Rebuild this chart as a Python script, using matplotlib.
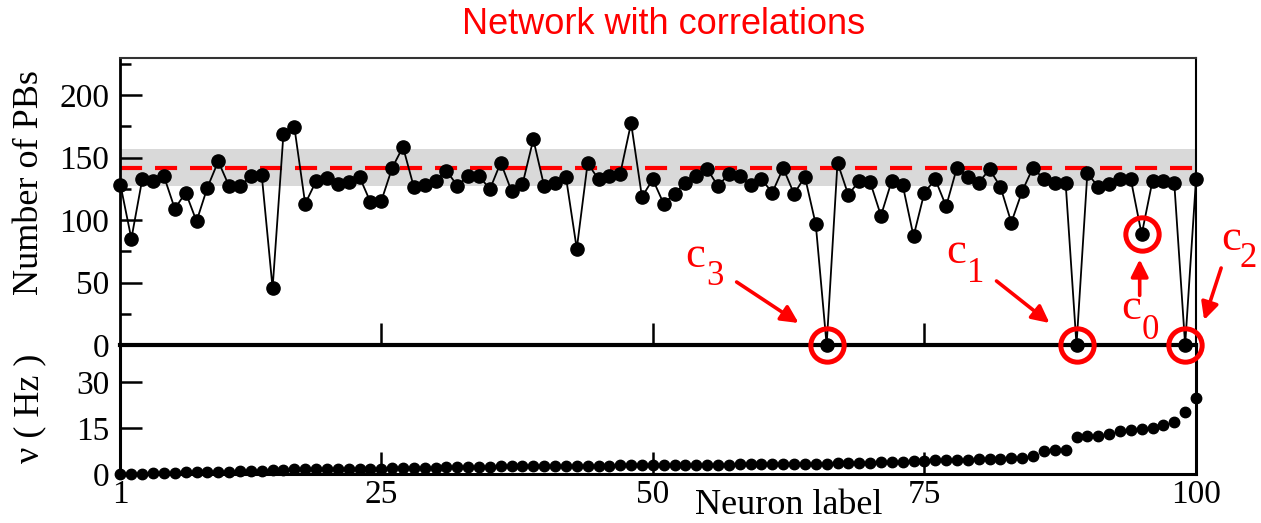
"""Number of PBs per neuron (top) and firing rate (bottom), network with correlations."""

import matplotlib
matplotlib.use("Agg")
import matplotlib.pyplot as plt
from matplotlib.ticker import MultipleLocator
from matplotlib.transforms import offset_copy

plt.rcParams["font.family"] = ["Liberation Serif", "DejaVu Serif"]

# --- data ---
neurons = list(range(1, 101))

n_pbs = [
    128, 85, 132.5, 131, 135, 109, 122, 99, 126, 147,
    127, 127, 135, 136, 45.5, 169, 174.5, 113, 131, 134,
    128.5, 130.5, 134.5, 114.5, 115, 141.5, 158.5, 126.5, 128, 131,
    139.5, 127.5, 135, 135.5, 124.5, 146, 123, 128.5, 164.5, 127,
    130, 134.5, 77, 145.5, 132.5, 135, 137, 177.5, 118.5, 132.5,
    113, 121, 130, 135, 141, 127, 137, 135, 128, 132.5,
    122, 141.5, 121, 134.5, 96.5, 0, 146, 120, 131.5, 130.5,
    103.5, 131.5, 128, 87, 122, 132.5, 111, 142, 134.5, 130,
    140.5, 126.5, 98, 123, 142, 132.5, 129.5, 129.5, 0, 137.5,
    126.5, 128.5, 132.5, 132.5, 88.5, 131.5, 131.5, 129.5, 0, 132.5,
]

rate_hz = [
    0.0, 0.1, 0.1, 0.2, 0.2, 0.3, 0.5, 0.5, 0.6, 0.7,
    0.8, 0.9, 1.0, 1.1, 1.3, 1.4, 1.5, 1.5, 1.5, 1.6,
    1.6, 1.6, 1.7, 1.7, 1.7, 1.8, 1.8, 1.9, 2.0, 2.1,
    2.3, 2.3, 2.4, 2.4, 2.4, 2.5, 2.5, 2.5, 2.6, 2.6,
    2.6, 2.6, 2.7, 2.7, 2.7, 2.7, 2.8, 2.8, 2.8, 2.8,
    2.9, 2.9, 2.9, 3.0, 3.0, 3.0, 3.0, 3.1, 3.1, 3.1,
    3.2, 3.2, 3.3, 3.3, 3.4, 3.4, 3.5, 3.5, 3.6, 3.7,
    3.8, 3.9, 4.0, 4.1, 4.3, 4.5, 4.6, 4.6, 4.7, 4.8,
    4.9, 5.0, 5.1, 5.2, 5.9, 7.5, 7.7, 7.7, 11.9, 12.4,
    12.4, 12.9, 14.0, 14.4, 14.7, 14.9, 16.0, 17.0, 20.1, 24.9,
]

pb_mean = 142
pb_band = (127, 157)

# circled neurons and their subscripts
marked = [95, 89, 99, 66]
marked_sub = ["0", "1", "2", "3"]

# label / arrow offsets in pixels from the circled point
offsets = {
    "3": dict(c=(-132, 78), s=(-112, 60), tail=(-90, 63), head=(-28, 22)),
    "1": dict(c=(-120, 82), s=(-101, 63), tail=(-80, 64), head=(-27, 22)),
    "0": dict(c=(-11, -85), s=(9, -105), tail=(-2, -61), head=(-2, -25)),
    "2": dict(c=(46, 95), s=(63, 78), tail=(36, 77), head=(19, 25)),
}

W, H = 1261, 523
fig = plt.figure(figsize=(W / 100, H / 100), dpi=100)
ax1 = fig.add_axes([120.5 / W, 1 - 345 / H, 1075.5 / W, 287.5 / H])
ax2 = fig.add_axes([120.5 / W, 1 - 474 / H, 1075.5 / W, 129 / H])
ax1.set_zorder(3)
ax1.patch.set_alpha(0)
ax2.patch.set_alpha(0)

# --- top panel ---
ax1.axhspan(*pb_band, color="#d9d9d9", lw=0, zorder=0)
ax1.axhline(pb_mean, color="red", lw=3, dashes=(5.3, 3.1), zorder=1)
ax1.plot(neurons, n_pbs, "-", color="k", lw=1.3, zorder=2, clip_on=False)
ax1.plot(neurons, n_pbs, "o", color="k", ms=9.5, zorder=3, clip_on=False)

for n, sub in zip(marked, marked_sub):
    v = n_pbs[n - 1]
    ax1.plot(n, v, "o", mfc="none", mec="red", ms=24, mew=3.6,
             clip_on=False, zorder=5)
    off = offsets[sub]
    tr = lambda dx, dy: offset_copy(ax1.transData, fig=fig, x=dx, y=dy, units="dots")
    ax1.text(n, v, "c", transform=tr(*off["c"]), ha="center", va="baseline",
             color="red", fontsize=32, clip_on=False)
    ax1.text(n, v, sub, transform=tr(*off["s"]), ha="center", va="baseline",
             color="red", fontsize=25, clip_on=False)
    ax1.annotate("", xy=(n, v), xycoords=tr(*off["head"]),
                 xytext=(n, v), textcoords=tr(*off["tail"]),
                 arrowprops=dict(arrowstyle="-|>", color="red", lw=2.6,
                                 mutation_scale=26, shrinkA=0, shrinkB=0),
                 annotation_clip=False)

ax1.set_xlim(1, 100)
ax1.set_ylim(0, 230)
ax1.set_xticks([25, 50, 75])
ax1.set_yticks(range(0, 201, 50))
ax1.yaxis.set_minor_locator(MultipleLocator(25))
ax1.tick_params(which="major", direction="in", length=16, width=1.8,
                labelsize=24, pad=8, labelbottom=False, top=False, right=False)
ax1.tick_params(which="minor", direction="in", length=8, width=1.8,
                top=False, right=False)
ax1.spines["left"].set_linewidth(2)
ax1.spines["bottom"].set_linewidth(3)
ax1.spines["top"].set_linewidth(1.5)
ax1.spines["top"].set_color("#333333")
ax1.spines["right"].set_linewidth(1.5)

# --- bottom panel ---
ax2.plot(neurons, rate_hz, "o", color="k", ms=7.5, clip_on=False)
ax2.set_xlim(1, 100)
ax2.set_ylim(0, 42)
ax2.set_xticks([1, 25, 50, 75, 100])
ax2.set_yticks([0, 15, 30])
ax2.tick_params(direction="in", length=16, width=1.8, labelsize=24,
                top=False, right=False)
ax2.tick_params(axis="x", pad=4)
ax2.tick_params(axis="y", pad=8)
ax2.spines["top"].set_visible(False)
for s in ("left", "bottom", "right"):
    ax2.spines[s].set_linewidth(2.2)

# --- texts ---
fig.text(664 / W, 1 - 25 / H, "Network with correlations", color="red",
         fontsize=26, family=["Liberation Sans", "DejaVu Sans"],
         ha="center", va="center")
fig.text(30 / W, 1 - 183 / H, "Number of PBs", rotation=90, fontsize=26,
         ha="center", va="center")
fig.text(30 / W, 1 - 408 / H, "ν ( Hz )", rotation=90, fontsize=26,
         ha="center", va="center")
fig.text(789 / W, 1 - 514 / H, "Neuron label", fontsize=26,
         ha="center", va="baseline")

fig.savefig("out.png", dpi=100)
